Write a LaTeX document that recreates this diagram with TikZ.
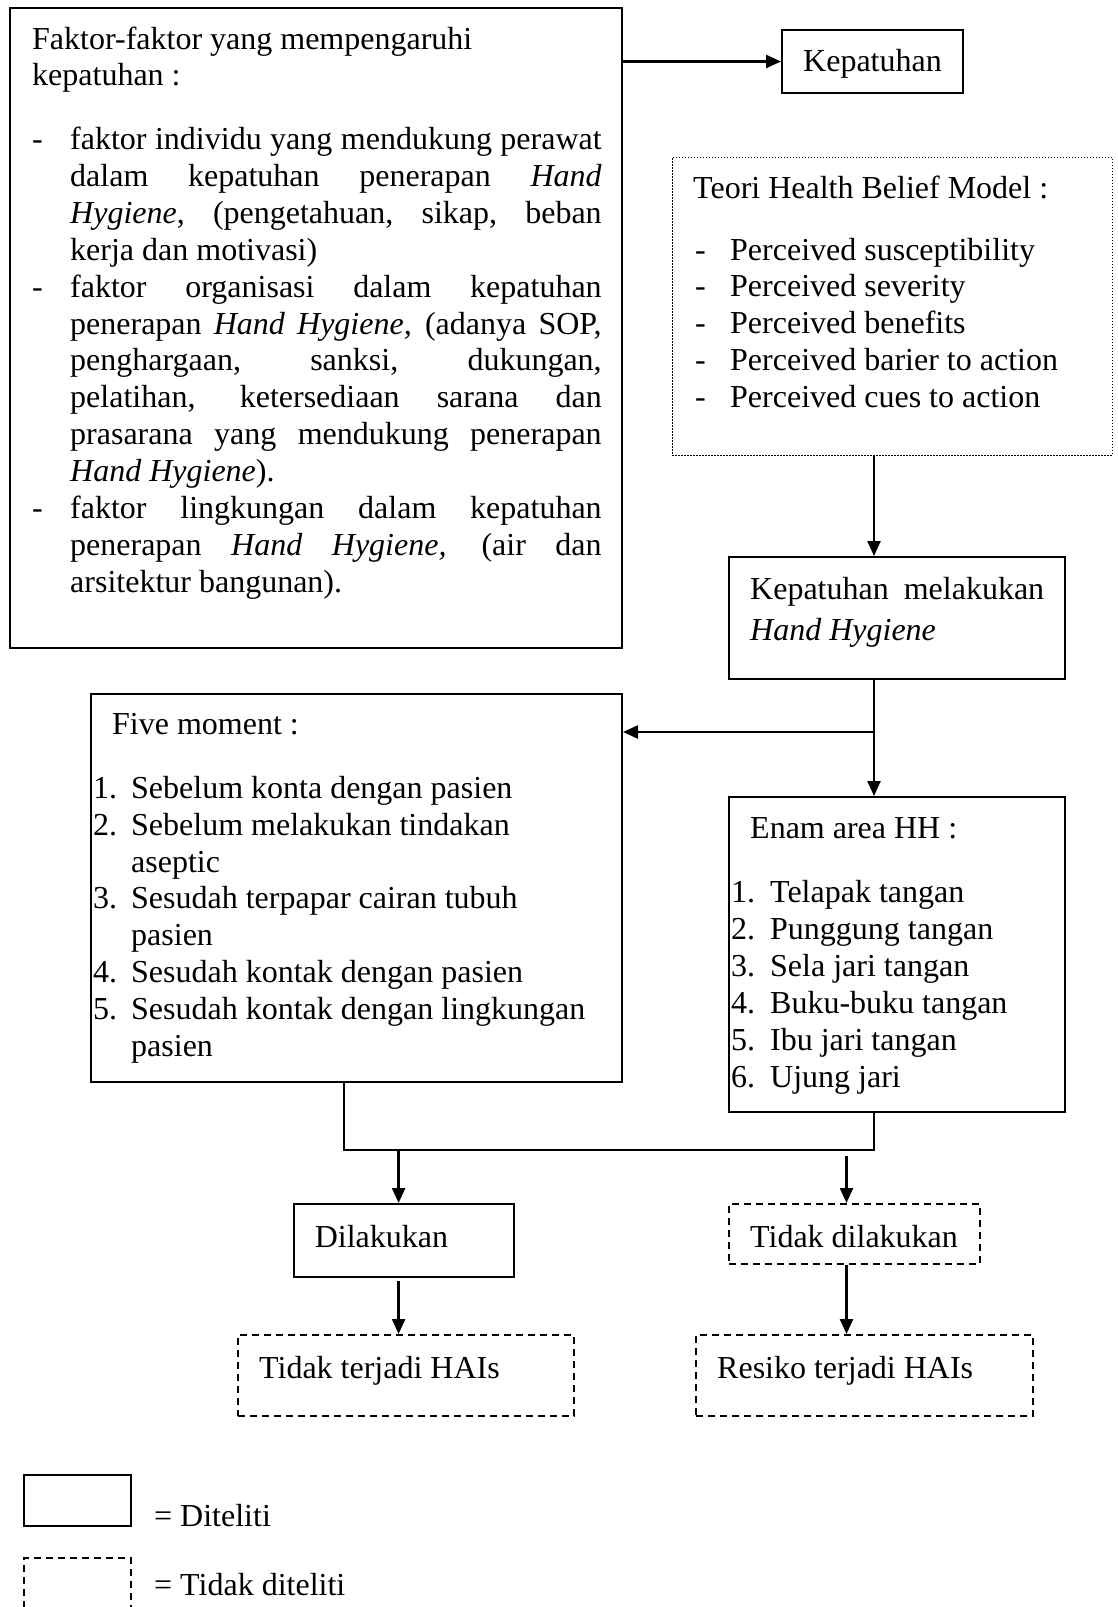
\documentclass[tikz,border=0pt]{standalone}
\usepackage{fontspec}
\setmainfont{Liberation Serif}
\usetikzlibrary{arrows.meta,fit}
\begin{document}
\begin{tikzpicture}[x=1pt,y=-1pt,
  every node/.style={font=\fontsize{32}{36.9}\selectfont},
  box/.style={draw, line width=2pt, inner sep=0pt},
  dbox/.style={draw, line width=2pt, dash pattern=on 7pt off 5pt, inner sep=0pt},
  dotbox/.style={draw, line width=1pt, dash pattern=on 1.5pt off 1.5pt, inner sep=0pt},
  txt/.style={anchor=base west, inner sep=0pt},
  arr/.style={line width=2.4pt, -{Triangle[length=15pt,width=13pt]}},
  conn/.style={line width=2.4pt}]
\useasboundingbox (0,0) rectangle (1117,1607);

% boxes
\node[box, fit={(10,8)(622,648)}] (b1) {};
\node[box, fit={(782,30)(963,93)}] (kep) {};
\node[dotbox, fit={(672,157)(1112,455)}] (hbm) {};
\node[box, fit={(729,557)(1065,679)}] (kmhh) {};
\node[box, fit={(91,694)(622,1082)}] (five) {};
\node[box, fit={(729,797)(1065,1112)}] (enam) {};
\node[box, fit={(294,1204)(514,1277)}] (dil) {};
\node[dbox, fit={(729,1204)(980,1264)}] (tdl) {};
\node[dbox, fit={(238,1335)(574,1416)}] (tth) {};
\node[dbox, fit={(696,1335)(1033,1416)}] (res) {};
\node[box, fit={(24,1475)(131,1526)}] (lg1) {};
\node[dbox, fit={(24,1558)(131,1625)}] (lg2) {};

% texts
\node[txt] (t1a) at (32,49) {\parbox[t]{580pt}{Faktor-faktor yang mempengaruhi\\kepatuhan :}};
\node[txt] (t1b) at (32,149.5) {\parbox[t]{580pt}{%
\makebox[38pt][l]{-}\makebox[531.5pt][s]{faktor individu yang mendukung perawat}\\
\hspace*{38pt}\makebox[531.5pt][s]{dalam kepatuhan penerapan \textit{Hand}}\\
\hspace*{38pt}\makebox[531.5pt][s]{\textit{Hygiene}, (pengetahuan, sikap, beban}\\
\hspace*{38pt}kerja dan motivasi)\\
\makebox[38pt][l]{-}\makebox[531.5pt][s]{faktor organisasi dalam kepatuhan}\\
\hspace*{38pt}\makebox[531.5pt][s]{penerapan \textit{Hand Hygiene,} (adanya SOP,}\\
\hspace*{38pt}\makebox[531.5pt][s]{penghargaan, sanksi, dukungan,}\\
\hspace*{38pt}\makebox[531.5pt][s]{pelatihan, ketersediaan sarana dan}\\
\hspace*{38pt}\makebox[531.5pt][s]{prasarana yang mendukung penerapan}\\
\hspace*{38pt}\textit{Hand Hygiene}).\\
\makebox[38pt][l]{-}\makebox[531.5pt][s]{faktor lingkungan dalam kepatuhan}\\
\hspace*{38pt}\makebox[531.5pt][s]{penerapan \textit{Hand Hygiene,} (air dan}\\
\hspace*{38pt}arsitektur bangunan).}};

\node[anchor=center, inner sep=0pt] (t0) at ([yshift=-2pt]kep.center) {Kepatuhan};

\node[txt] (t2a) at (693,198) {Teori Health Belief Model :};
\node[txt] (t2b) at (695,260) {\parbox[t]{400pt}{%
\makebox[35pt][l]{-}Perceived susceptibility\\
\makebox[35pt][l]{-}Perceived severity\\
\makebox[35pt][l]{-}Perceived benefits\\
\makebox[35pt][l]{-}Perceived barier to action\\
\makebox[35pt][l]{-}Perceived cues to action}};

\node[txt] (t3) at (750,599.5) {\parbox[t]{300pt}{\makebox[294pt][s]{Kepatuhan melakukan}\\[4pt]\textit{Hand Hygiene}}};

\node[txt] (t4a) at (112,734.7) {Five moment :};
\node[txt] (t4b) at (93,798.2) {\parbox[t]{525pt}{%
\makebox[38pt][l]{1.}Sebelum konta dengan pasien\\
\makebox[38pt][l]{2.}Sebelum melakukan tindakan\\
\hspace*{38pt}aseptic\\
\makebox[38pt][l]{3.}Sesudah terpapar cairan tubuh\\
\hspace*{38pt}pasien\\
\makebox[38pt][l]{4.}Sesudah kontak dengan pasien\\
\makebox[38pt][l]{5.}Sesudah kontak dengan lingkungan\\
\hspace*{38pt}pasien}};

\node[txt] (t5a) at (750,838) {Enam area HH :};
\node[txt] (t5b) at (731,902.8) {\parbox[t]{330pt}{%
\makebox[39pt][l]{1.}Telapak tangan\\
\makebox[39pt][l]{2.}Punggung tangan\\
\makebox[39pt][l]{3.}Sela jari tangan\\
\makebox[39pt][l]{4.}Buku-buku tangan\\
\makebox[39pt][l]{5.}Ibu jari tangan\\
\makebox[39pt][l]{6.}Ujung jari}};

\node[txt] (t6) at (314.6,1247) {Dilakukan};
\node[txt] (t7) at (750,1247) {Tidak dilakukan};
\node[txt] (t8) at (259,1378) {Tidak terjadi HAIs};
\node[txt] (t9) at (717,1378) {Resiko terjadi HAIs};
\node[txt] (t10) at (154,1526) {= Diteliti};
\node[txt] (t11) at (154,1595.5) {= Tidak diteliti};

% connectors
\coordinate (c1) at (874,0);
\coordinate (br) at (874,732);
\coordinate (m1) at (344,1150);
\coordinate (m2) at (874,1150);
\coordinate (d1) at (398.6,1150);
\coordinate (d2) at (846.5,1156);
\coordinate (d3) at (398.6,1281);

\draw[arr] (b1.east |- kep.west) -- (kep.west);
\draw[arr] (c1 |- hbm.south) -- (c1 |- kmhh.north);
\draw[arr] (c1 |- kmhh.south) -- (c1 |- enam.north);
\draw[arr] (br) -- (br -| five.east);
\draw[conn] (m1 |- five.south) -- (m1) -- (m2) -- (m2 |- enam.south);
\draw[arr] (d1) -- (d1 |- dil.north);
\draw[arr] (d2) -- (d2 |- tdl.north);
\draw[arr] (d3) -- (d3 |- tth.north);
\draw[arr] (d2 |- tdl.south) -- (d2 |- res.north);
\end{tikzpicture}
\end{document}
